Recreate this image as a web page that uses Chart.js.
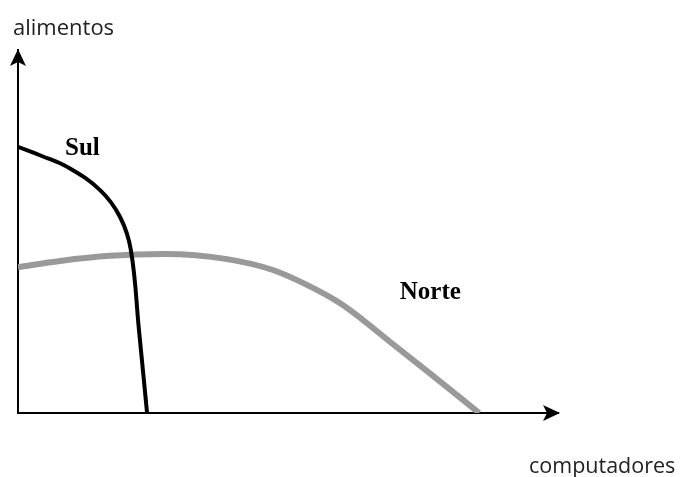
<!DOCTYPE html>
<html>
<head>
<meta charset="utf-8">
<script src="https://cdn.jsdelivr.net/npm/chart.js@4.4.1/dist/chart.umd.min.js"></script>
<style>
  html, body { margin: 0; padding: 0; background: #fff; }
  #wrap { width: 680px; height: 477px; }
</style>
</head>
<body>
<div id="wrap"><canvas id="c" width="680" height="477"></canvas></div>
<script>
// Production possibility frontiers (computadores on x, alimentos on y)
const sulX = [0, 4.4, 9.1, 15.2, 18.9, 20.9, 22.4, 23.9];
const sulY = [73.3, 70.8, 67.8, 61.4, 54.0, 44.9, 22.9, 0];
const norteX = [0, 7.8, 17.0, 27.2, 38.7, 47.2, 53.5, 59.6, 63.9, 69.4, 75.7, 85.4];
const norteY = [40.2, 41.9, 43.3, 43.8, 42.4, 39.4, 35.3, 30.3, 25.6, 19.0, 11.6, 0];
const curveNames = ['Sul', 'Norte'];
const axisTitles = { x: 'computadores', y: 'alimentos' };

const toPoints = (xs, ys) => xs.map((x, i) => ({ x, y: ys[i] }));

// Arrowheads on both axes plus the axis and curve labels
const decorations = {
  id: 'decorations',
  afterDraw(chart) {
    const { ctx, scales: { x, y } } = chart;
    const x0 = x.getPixelForValue(0), y0 = y.getPixelForValue(0);
    const xEnd = x.getPixelForValue(100), yEnd = y.getPixelForValue(100);
    ctx.save();
    ctx.fillStyle = '#000';
    // y arrow
    ctx.beginPath();
    ctx.moveTo(x0, yEnd - 1);
    ctx.lineTo(x0 - 8, yEnd + 16);
    ctx.lineTo(x0, yEnd + 12);
    ctx.lineTo(x0 + 8, yEnd + 16);
    ctx.closePath();
    ctx.fill();
    // x arrow
    ctx.beginPath();
    ctx.moveTo(xEnd + 2, y0);
    ctx.lineTo(xEnd - 15, y0 - 8);
    ctx.lineTo(xEnd - 11, y0);
    ctx.lineTo(xEnd - 15, y0 + 8);
    ctx.closePath();
    ctx.fill();

    ctx.fillStyle = '#222';
    ctx.textBaseline = 'alphabetic';
    ctx.textAlign = 'left';
    ctx.font = '22px "Open Sans"';
    ctx.fillText(axisTitles.y, 13, yEnd - 15);
    ctx.font = '21.5px "Open Sans"';
    ctx.fillText(axisTitles.x, 529, y0 + 60);

    ctx.fillStyle = '#000';
    ctx.font = 'bold 25px "Liberation Serif"';
    ctx.fillText(curveNames[0], x.getPixelForValue(8.7), y.getPixelForValue(71.1));
    ctx.fillText(curveNames[1], x.getPixelForValue(70.7), y.getPixelForValue(31.4));
    ctx.restore();
  }
};

new Chart(document.getElementById('c'), {
  type: 'line',
  data: {
    datasets: [
      {
        label: curveNames[0],
        data: toPoints(sulX, sulY),
        borderColor: '#000',
        borderWidth: 4,
        pointRadius: 0,
        tension: 0.4,
        fill: false
      },
      {
        label: curveNames[1],
        data: toPoints(norteX, norteY),
        borderColor: '#999',
        borderWidth: 6,
        pointRadius: 0,
        cubicInterpolationMode: 'monotone',
        fill: false
      }
    ]
  },
  options: {
    responsive: false,
    animation: false,
    layout: { padding: { left: 18, top: 50, right: 122, bottom: 64 } },
    plugins: { legend: { display: false }, tooltip: { enabled: false } },
    scales: {
      x: {
        type: 'linear', min: 0, max: 100,
        grid: { display: false, drawTicks: false },
        border: { display: true, color: '#000', width: 2 },
        ticks: { display: false }
      },
      y: {
        type: 'linear', min: 0, max: 100,
        grid: { display: false, drawTicks: false },
        border: { display: true, color: '#000', width: 2 },
        ticks: { display: false }
      }
    }
  },
  plugins: [decorations]
});
</script>
</body>
</html>
